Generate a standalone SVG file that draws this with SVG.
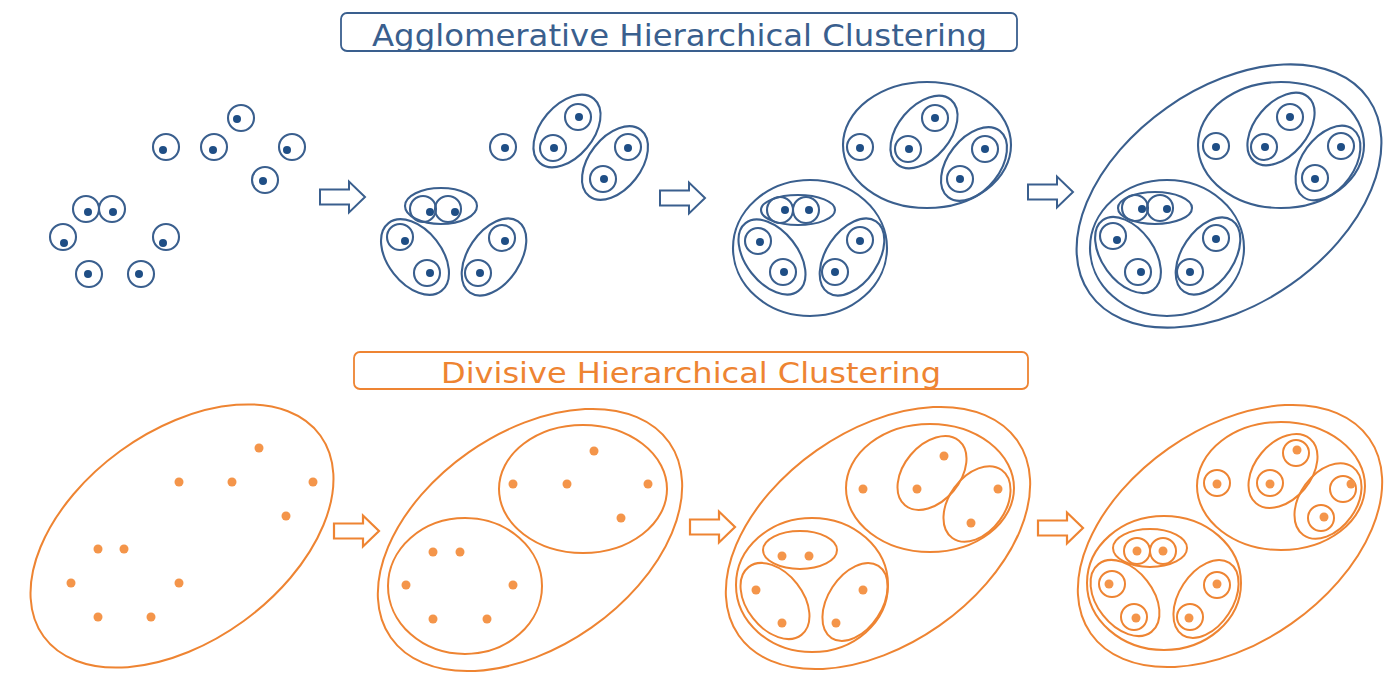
<svg xmlns="http://www.w3.org/2000/svg" xmlns:xlink="http://www.w3.org/1999/xlink" width="1392" height="674" viewBox="0 0 1392 674">
<style>
.b{fill:none;stroke:#3A5F8E;stroke-width:2.1}
.bd{fill:#1F4E85}
.o{fill:none;stroke:#EE8432;stroke-width:2}
.od{fill:#F4954A}
.tb{fill:#fff;stroke:#3A5F8E;stroke-width:1.8}
.to{fill:#fff;stroke:#EE8432;stroke-width:1.8}
.arb{fill:#fff;stroke:#3A5F8E;stroke-width:2;stroke-linejoin:miter}
.aro{fill:#fff;stroke:#EE8432;stroke-width:2.2;stroke-linejoin:miter}
text{font-family:"DejaVu Sans","Liberation Sans",sans-serif}
</style>
<defs>
<path id="arr" d="M-45,-7.5 H-16 V-15.5 L0,0 L-16,15.5 V7.5 H-45 Z"/>
</defs>
<rect width="1392" height="674" fill="#fff"/>

<g id="title-agglomerative">
<rect class="tb" x="341" y="13" width="676" height="38" rx="6"/>
<text x="679.5" y="45.5" text-anchor="middle" font-size="30" fill="#3A5F8E" textLength="615" lengthAdjust="spacingAndGlyphs">Agglomerative Hierarchical Clustering</text>
</g>
<g id="title-divisive">
<rect class="to" x="354" y="352" width="674" height="37" rx="6"/>
<text x="691" y="383" text-anchor="middle" font-size="28" fill="#EE8432" textLength="500" lengthAdjust="spacingAndGlyphs">Divisive Hierarchical Clustering</text>
</g>

<g id="connectors">
<use href="#arr" class="arb" transform="translate(365,197)"/>
<use href="#arr" class="arb" transform="translate(705,198)"/>
<use href="#arr" class="arb" transform="translate(1073,192)"/>
<use href="#arr" class="aro" transform="translate(379,531)"/>
<use href="#arr" class="aro" transform="translate(735,527)"/>
<use href="#arr" class="aro" transform="translate(1083,528)"/>
</g>

<g id="agg-step1">
<circle class="b" cx="241" cy="118" r="13"/><circle class="bd" cx="237" cy="119" r="4"/>
<circle class="b" cx="166" cy="147" r="13"/><circle class="bd" cx="163" cy="150" r="4"/>
<circle class="b" cx="214" cy="147" r="13"/><circle class="bd" cx="213" cy="150" r="4"/>
<circle class="b" cx="292" cy="147" r="13"/><circle class="bd" cx="287" cy="150" r="4"/>
<circle class="b" cx="265" cy="180" r="13"/><circle class="bd" cx="263" cy="181" r="4"/>
<circle class="b" cx="86" cy="209" r="13"/><circle class="bd" cx="88" cy="212" r="4"/>
<circle class="b" cx="112" cy="209" r="13"/><circle class="bd" cx="113" cy="212" r="4"/>
<circle class="b" cx="63" cy="237" r="13"/><circle class="bd" cx="64" cy="243" r="4"/>
<circle class="b" cx="166" cy="237" r="13"/><circle class="bd" cx="163" cy="243" r="4"/>
<circle class="b" cx="89" cy="274" r="13"/><circle class="bd" cx="88" cy="274" r="4"/>
<circle class="b" cx="141" cy="274" r="13"/><circle class="bd" cx="139" cy="274" r="4"/>
</g>

<g id="agg-step2">
<circle class="b" cx="503" cy="147" r="13"/><circle class="bd" cx="505" cy="148" r="4"/>
<circle class="b" cx="578" cy="117" r="13"/><circle class="bd" cx="579" cy="117" r="4"/>
<circle class="b" cx="553" cy="148" r="13"/><circle class="bd" cx="554" cy="148" r="4"/>
<ellipse class="b" cx="567" cy="131" rx="42" ry="26" transform="rotate(-50 567 131)"/>
<circle class="b" cx="628" cy="147" r="13"/><circle class="bd" cx="628" cy="148" r="4"/>
<circle class="b" cx="603" cy="179" r="13"/><circle class="bd" cx="604" cy="179" r="4"/>
<ellipse class="b" cx="615" cy="163" rx="42" ry="26" transform="rotate(-52 615 163)"/>
<circle class="b" cx="423" cy="209" r="13"/><circle class="bd" cx="430" cy="212" r="4"/>
<circle class="b" cx="448" cy="209" r="13"/><circle class="bd" cx="455" cy="212" r="4"/>
<ellipse class="b" cx="441" cy="206" rx="36" ry="18"/>
<circle class="b" cx="400" cy="237" r="13"/><circle class="bd" cx="405" cy="241" r="4"/>
<circle class="b" cx="427" cy="273" r="13"/><circle class="bd" cx="430" cy="273" r="4"/>
<ellipse class="b" cx="415" cy="257" rx="43" ry="27" transform="rotate(52 415 257)"/>
<circle class="b" cx="502" cy="238" r="13"/><circle class="bd" cx="505" cy="241" r="4"/>
<circle class="b" cx="478" cy="273" r="13"/><circle class="bd" cx="480" cy="273" r="4"/>
<ellipse class="b" cx="494" cy="257" rx="43" ry="26" transform="rotate(-56 494 257)"/>
</g>

<g id="agg-step3">
<ellipse class="b" cx="927" cy="145" rx="84" ry="63"/>
<ellipse class="b" cx="810" cy="248" rx="77" ry="68"/>
<circle class="b" cx="860" cy="147" r="13"/><circle class="bd" cx="860" cy="148" r="4"/>
<circle class="b" cx="935" cy="118" r="13"/><circle class="bd" cx="935" cy="118" r="4"/>
<circle class="b" cx="908" cy="149" r="13"/><circle class="bd" cx="909" cy="149" r="4"/>
<ellipse class="b" cx="924" cy="132" rx="42" ry="26" transform="rotate(-50 924 132)"/>
<circle class="b" cx="985" cy="149" r="13"/><circle class="bd" cx="985" cy="149" r="4"/>
<circle class="b" cx="960" cy="179" r="13"/><circle class="bd" cx="960" cy="179" r="4"/>
<ellipse class="b" cx="974" cy="164" rx="42" ry="26" transform="rotate(-52 974 164)"/>
<circle class="b" cx="780" cy="210" r="13"/><circle class="bd" cx="785" cy="210" r="4"/>
<circle class="b" cx="806" cy="210" r="13"/><circle class="bd" cx="809" cy="210" r="4"/>
<ellipse class="b" cx="798" cy="210" rx="37" ry="15"/>
<circle class="b" cx="758" cy="241" r="13"/><circle class="bd" cx="760" cy="242" r="4"/>
<circle class="b" cx="783" cy="272" r="13"/><circle class="bd" cx="784" cy="272" r="4"/>
<ellipse class="b" cx="772" cy="257" rx="43" ry="26" transform="rotate(52 772 257)"/>
<circle class="b" cx="860" cy="240" r="13"/><circle class="bd" cx="860" cy="241" r="4"/>
<circle class="b" cx="835" cy="272" r="13"/><circle class="bd" cx="835" cy="272" r="4"/>
<ellipse class="b" cx="852" cy="257" rx="43" ry="26" transform="rotate(-56 852 257)"/>
</g>

<g id="agg-step4">
<ellipse class="b" cx="1229" cy="196" rx="170" ry="108" transform="rotate(-35 1229 196)"/>
<ellipse class="b" cx="1281" cy="145" rx="83" ry="63"/>
<ellipse class="b" cx="1167" cy="248" rx="77" ry="68"/>
<circle class="b" cx="1216" cy="146" r="13"/><circle class="bd" cx="1216" cy="147" r="4"/>
<circle class="b" cx="1290" cy="117" r="13"/><circle class="bd" cx="1290" cy="117" r="4"/>
<circle class="b" cx="1264" cy="147" r="13"/><circle class="bd" cx="1265" cy="147" r="4"/>
<ellipse class="b" cx="1281" cy="129" rx="42" ry="26" transform="rotate(-50 1281 129)"/>
<circle class="b" cx="1341" cy="146" r="13"/><circle class="bd" cx="1341" cy="147" r="4"/>
<circle class="b" cx="1315" cy="178" r="13"/><circle class="bd" cx="1315" cy="179" r="4"/>
<ellipse class="b" cx="1328" cy="163" rx="42" ry="26" transform="rotate(-54 1328 163)"/>
<circle class="b" cx="1135" cy="208" r="13"/><circle class="bd" cx="1142" cy="209" r="4"/>
<circle class="b" cx="1160" cy="208" r="13"/><circle class="bd" cx="1167" cy="209" r="4"/>
<ellipse class="b" cx="1155" cy="208" rx="37" ry="16"/>
<circle class="b" cx="1113" cy="236" r="13"/><circle class="bd" cx="1117" cy="240" r="4"/>
<circle class="b" cx="1138" cy="272" r="13"/><circle class="bd" cx="1141" cy="272" r="4"/>
<ellipse class="b" cx="1128" cy="255" rx="43" ry="26" transform="rotate(54 1128 255)"/>
<circle class="b" cx="1216" cy="238" r="13"/><circle class="bd" cx="1216" cy="239" r="4"/>
<circle class="b" cx="1190" cy="272" r="13"/><circle class="bd" cx="1190" cy="272" r="4"/>
<ellipse class="b" cx="1208" cy="256" rx="43" ry="26" transform="rotate(-56 1208 256)"/>
</g>

<g id="div-step1">
<ellipse class="o" cx="182" cy="536" rx="171" ry="105" transform="rotate(-36 182 536)"/>
<circle class="od" cx="259" cy="448" r="4.5"/>
<circle class="od" cx="179" cy="482" r="4.5"/>
<circle class="od" cx="232" cy="482" r="4.5"/>
<circle class="od" cx="313" cy="482" r="4.5"/>
<circle class="od" cx="286" cy="516" r="4.5"/>
<circle class="od" cx="98" cy="549" r="4.5"/>
<circle class="od" cx="124" cy="549" r="4.5"/>
<circle class="od" cx="71" cy="583" r="4.5"/>
<circle class="od" cx="179" cy="583" r="4.5"/>
<circle class="od" cx="98" cy="617" r="4.5"/>
<circle class="od" cx="151" cy="617" r="4.5"/>
</g>

<g id="div-step2">
<ellipse class="o" cx="530" cy="540" rx="170" ry="107" transform="rotate(-35 530 540)"/>
<ellipse class="o" cx="583" cy="489" rx="84" ry="64"/>
<ellipse class="o" cx="465" cy="586" rx="77" ry="68"/>
<circle class="od" cx="594" cy="451" r="4.5"/>
<circle class="od" cx="513" cy="484" r="4.5"/>
<circle class="od" cx="567" cy="484" r="4.5"/>
<circle class="od" cx="648" cy="484" r="4.5"/>
<circle class="od" cx="621" cy="518" r="4.5"/>
<circle class="od" cx="433" cy="552" r="4.5"/>
<circle class="od" cx="460" cy="552" r="4.5"/>
<circle class="od" cx="406" cy="585" r="4.5"/>
<circle class="od" cx="513" cy="585" r="4.5"/>
<circle class="od" cx="433" cy="619" r="4.5"/>
<circle class="od" cx="487" cy="619" r="4.5"/>
</g>

<g id="div-step3">
<ellipse class="o" cx="878" cy="538" rx="170" ry="107" transform="rotate(-35 878 538)"/>
<ellipse class="o" cx="930" cy="488" rx="84" ry="64"/>
<ellipse class="o" cx="812" cy="585" rx="76" ry="67"/>
<ellipse class="o" cx="932" cy="473" rx="42" ry="28" transform="rotate(-50 932 473)"/>
<ellipse class="o" cx="977" cy="504" rx="42" ry="28" transform="rotate(-54 977 504)"/>
<ellipse class="o" cx="800" cy="550" rx="37" ry="19"/>
<ellipse class="o" cx="775" cy="601" rx="43" ry="28" transform="rotate(52 775 601)"/>
<ellipse class="o" cx="855" cy="602" rx="43" ry="27" transform="rotate(-57 855 602)"/>
<circle class="od" cx="944" cy="456" r="4.5"/>
<circle class="od" cx="863" cy="489" r="4.5"/>
<circle class="od" cx="917" cy="489" r="4.5"/>
<circle class="od" cx="998" cy="489" r="4.5"/>
<circle class="od" cx="971" cy="523" r="4.5"/>
<circle class="od" cx="782" cy="556" r="4.5"/>
<circle class="od" cx="809" cy="556" r="4.5"/>
<circle class="od" cx="756" cy="590" r="4.5"/>
<circle class="od" cx="863" cy="590" r="4.5"/>
<circle class="od" cx="782" cy="623" r="4.5"/>
<circle class="od" cx="836" cy="623" r="4.5"/>
</g>

<g id="div-step4">
<ellipse class="o" cx="1230" cy="536" rx="170" ry="107" transform="rotate(-35 1230 536)"/>
<ellipse class="o" cx="1281" cy="486" rx="84" ry="64"/>
<ellipse class="o" cx="1164" cy="583" rx="77" ry="67"/>
<ellipse class="o" cx="1283" cy="471" rx="42" ry="28" transform="rotate(-50 1283 471)"/>
<ellipse class="o" cx="1328" cy="501" rx="42" ry="28" transform="rotate(-54 1328 501)"/>
<ellipse class="o" cx="1150" cy="548" rx="37" ry="19"/>
<ellipse class="o" cx="1125" cy="598" rx="43" ry="28" transform="rotate(52 1125 598)"/>
<ellipse class="o" cx="1206" cy="599" rx="43" ry="27" transform="rotate(-57 1206 599)"/>
<circle class="o" cx="1296" cy="453" r="13"/><circle class="od" cx="1297" cy="450" r="4.5"/>
<circle class="o" cx="1217" cy="483" r="13"/><circle class="od" cx="1217" cy="484" r="4.5"/>
<circle class="o" cx="1270" cy="483" r="13"/><circle class="od" cx="1270" cy="484" r="4.5"/>
<circle class="o" cx="1343" cy="489" r="13"/><circle class="od" cx="1351" cy="484" r="4.5"/>
<circle class="o" cx="1321" cy="518" r="13"/><circle class="od" cx="1324" cy="517" r="4.5"/>
<circle class="o" cx="1137" cy="551" r="13"/><circle class="od" cx="1137" cy="551" r="4.5"/>
<circle class="o" cx="1163" cy="551" r="13"/><circle class="od" cx="1163" cy="551" r="4.5"/>
<circle class="o" cx="1112" cy="584" r="13"/><circle class="od" cx="1109" cy="584" r="4.5"/>
<circle class="o" cx="1217" cy="585" r="13"/><circle class="od" cx="1217" cy="584" r="4.5"/>
<circle class="o" cx="1134" cy="617" r="13"/><circle class="od" cx="1136" cy="618" r="4.5"/>
<circle class="o" cx="1190" cy="617" r="13"/><circle class="od" cx="1189" cy="618" r="4.5"/>
</g>
</svg>
